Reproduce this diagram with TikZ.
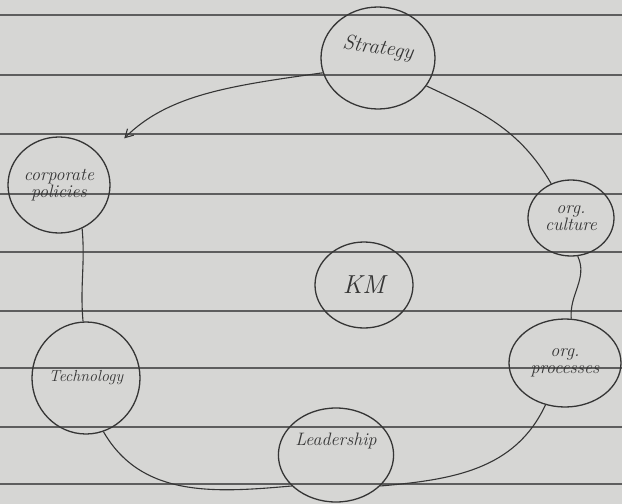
\documentclass[tikz,border=0pt]{standalone}
\usetikzlibrary{shapes.geometric,arrows.meta}
\definecolor{paper}{HTML}{D6D6D4}
\definecolor{rule}{HTML}{5E5E5E}
\definecolor{ink}{HTML}{353535}
\begin{document}
\begin{tikzpicture}[x=1pt,y=-1pt,
  bubble/.style={ellipse,draw=ink,line width=1.3pt,inner sep=0pt,text=ink,
     font=\itshape\fontsize{18}{17}\selectfont,align=center},
  link/.style={draw=ink,line width=1.1pt},
  paperline/.style={draw=rule,line width=1.6pt}]
\fill[paper] (0,0) rectangle (622,504);
\useasboundingbox (0,0) rectangle (622,504);
\foreach \y in {15,75,134,194,252,311,368,427,484}
  \draw[paperline] (0,\y) -- (622,\y);
\node[bubble,minimum width=114pt,minimum height=102pt,font=\itshape\fontsize{21}{21}\selectfont] (str) at (378,58) {\rotatebox{-8}{Strategy}\\[12pt]\mbox{}};
\node[bubble,minimum width=86pt,minimum height=76pt] (cul) at (571,218) {org.\\culture};
\node[bubble,minimum width=112pt,minimum height=88pt] (pro) at (565,363) {org.\\processes};
\node[bubble,minimum width=112pt,minimum height=94pt] (lead) at (336,455) {Leadership\\[14pt]\mbox{}};
\node[bubble,minimum width=108pt,minimum height=112pt,font=\itshape\fontsize{16}{16}\selectfont] (tech) at (86,378) {Technology};
\node[bubble,minimum width=102pt,minimum height=96pt] (corp) at (59,185) {corporate\\policies};
\node[bubble,minimum width=98pt,minimum height=86pt,font=\itshape\fontsize{26}{26}\selectfont] (km) at (364,285) {KM};
\draw[link] (str.-30) to[out=-25,in=120] (cul.120);
\draw[link] (cul.-80) to[out=-65,in=95] (pro.82);
\draw[link] (pro.-115) to[out=-115,in=5] (lead.-35);
\draw[link] (lead.-145) to[out=185,in=-60] (tech.-72);
\draw[link] (tech.93) to[out=95,in=-85] (corp.-62);
\draw[link,-{Straight Barb[length=8pt,width=9pt]},shorten >=30pt] (str.195) to[out=188,in=45] (corp.30);
\end{tikzpicture}
\end{document}
